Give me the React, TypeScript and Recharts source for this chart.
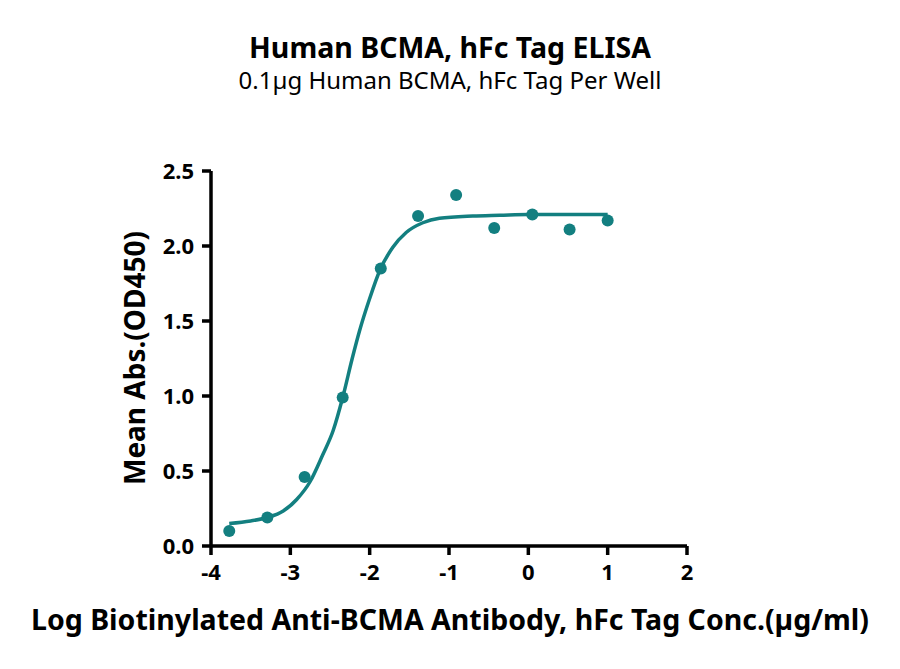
import React from 'react'
import { ComposedChart, Line, Scatter, XAxis, YAxis } from 'recharts'

// log10 concentration (µg/ml), 3-fold dilution series
const logConc = [-3.77, -3.29, -2.82, -2.34, -1.86, -1.39, -0.91, -0.43, 0.05, 0.52, 1.0]
const meanAbs = [0.10, 0.19, 0.46, 0.99, 1.85, 2.20, 2.34, 2.12, 2.21, 2.11, 2.17]

// fitted curve
const fitX = [-3.77, -3.5, -3.29, -3.09, -2.92, -2.75, -2.59, -2.46, -2.34, -2.22, -2.13, -2.0, -1.87, -1.71, -1.54, -1.33, -1.12, -0.7, -0.36, 0, 0.5, 1.0]
const fitY = [0.15, 0.167, 0.19, 0.233, 0.31, 0.43, 0.61, 0.77, 0.99, 1.25, 1.43, 1.65, 1.84, 1.99, 2.09, 2.155, 2.185, 2.2, 2.205, 2.21, 2.21, 2.21]

const xTicks = [-4, -3, -2, -1, 0, 1, 2]
const yTicks = [0, 0.5, 1.0, 1.5, 2.0, 2.5]

const TEAL = '#137f80'
const FONT = '"Noto Sans", sans-serif'

const points = logConc.map((x, i) => ({ x, y: meanAbs[i] }))
const curve = fitX.map((x, i) => ({ x, y: fitY[i] }))

const Dot = (props: any) => <circle cx={props.cx} cy={props.cy} r={6} fill={TEAL} />

export default function App() {
    const tickStyle = { fill: '#000', fontSize: 22, fontWeight: 700, fontFamily: FONT }
    const axisStroke = { stroke: '#000', strokeWidth: 3.5 }
    return (
        <div style={{ position: 'absolute', left: 0, top: 0, width: 900, height: 669, background: '#fff', fontFamily: FONT }}>
            <div style={{ position: 'absolute', top: 28, width: 900, textAlign: 'center', fontSize: 28.5, fontWeight: 700, color: '#000' }}>
                Human BCMA, hFc Tag ELISA
            </div>
            <div style={{ position: 'absolute', top: 63, width: 900, textAlign: 'center', fontSize: 24, color: '#000' }}>
                0.1µg Human BCMA, hFc Tag Per Well
            </div>
            <div style={{
                position: 'absolute', left: 134, top: 358, transform: 'translate(-50%, -50%) rotate(-90deg)',
                whiteSpace: 'nowrap', fontSize: 28, fontWeight: 700, color: '#000'
            }}>
                Mean Abs.(OD450)
            </div>
            <div style={{ position: 'absolute', top: 600, left: 0, width: 900, textAlign: 'center', fontSize: 28.5, fontWeight: 700, color: '#000' }}>
                Log Biotinylated Anti-BCMA Antibody, hFc Tag Conc.(µg/ml)
            </div>
            <ComposedChart width={900} height={669} margin={{ top: 171, right: 213, bottom: 83, left: 151 }}>
                <XAxis
                    dataKey="x"
                    type="number"
                    domain={[-4, 2]}
                    ticks={xTicks}
                    allowDataOverflow
                    height={40}
                    stroke="#000"
                    strokeWidth={3.5}
                    axisLine={axisStroke}
                    tickLine={axisStroke}
                    tickSize={9}
                    tickMargin={9}
                    tick={tickStyle}
                />
                <YAxis
                    dataKey="y"
                    type="number"
                    domain={[0, 2.5]}
                    ticks={yTicks}
                    width={60}
                    stroke="#000"
                    strokeWidth={3.5}
                    axisLine={axisStroke}
                    tickLine={axisStroke}
                    tickSize={9}
                    tickMargin={8}
                    tick={tickStyle}
                    tickFormatter={(v: number) => v.toFixed(1)}
                />
                <Line
                    data={curve}
                    dataKey="y"
                    type="monotone"
                    stroke={TEAL}
                    strokeWidth={3.5}
                    dot={false}
                    activeDot={false}
                    isAnimationActive={false}
                />
                <Scatter data={points} dataKey="y" fill={TEAL} shape={Dot} isAnimationActive={false} />
            </ComposedChart>
        </div>
    )
}
